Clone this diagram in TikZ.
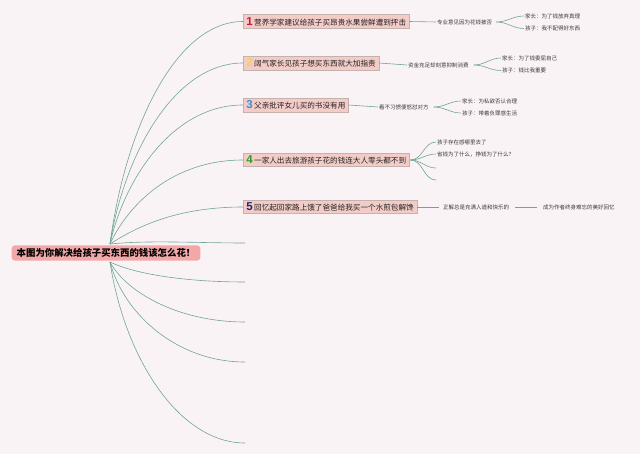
\documentclass[tikz,border=0pt]{standalone}
\usepackage{fontspec}
\newfontfamily\cjk{Noto Sans CJK SC}
\newfontfamily\numfont{Liberation Sans}
\definecolor{bgc}{HTML}{FAF3F5}
\definecolor{linec}{HTML}{6FA596}
\definecolor{topicfill}{HTML}{F3CCC8}
\definecolor{topicborder}{HTML}{C4B2AF}
\definecolor{rootfill}{HTML}{F2A8A8}
\definecolor{textdark}{HTML}{222222}
\definecolor{textgray}{HTML}{3A3A3A}
\definecolor{cone}{HTML}{D2143C}
\definecolor{ctwo}{HTML}{F5D54A}
\definecolor{cthree}{HTML}{3A8ED6}
\definecolor{cfour}{HTML}{2E9E2E}
\definecolor{cfive}{HTML}{24247A}
\tikzset{
  topic/.style={draw=topicborder, fill=topicfill, line width=0.6pt, inner xsep=3pt, inner ysep=2.5pt, anchor=west, font=\cjk\fontsize{7.6}{8.5}\selectfont, text=textdark},
  subt/.style={anchor=west, inner sep=1pt, font=\cjk\fontsize{5.5}{6}\selectfont, text=textgray},
  rootbox/.style={fill=rootfill, rounded corners=3pt, inner xsep=5pt, inner ysep=3pt, font=\cjk\bfseries\fontsize{9.4}{10}\selectfont, text=black},
  edge/.style={draw=linec, line width=0.6pt},
}
\newcommand{\numlbl}[2]{{\numfont\bfseries\fontsize{11.5}{11.5}\selectfont\textcolor{#1}{#2}}\hspace{1.5pt}}
\begin{document}
\begin{tikzpicture}[x=1pt,y=-1pt]
\fill[bgc] (0,0) rectangle (640,454);
\useasboundingbox (0,0) rectangle (640,454);

% root
\node[rootbox] (root) at (106,253) {本图为你解决给孩子买东西的钱该怎么花！};
\coordinate (rt) at (110,244);
\coordinate (rb) at (110,262);

% main topics
\node[topic] (n1) at (243,21.5) {\numlbl{cone}{1}营养学家建议给孩子买昂贵水果尝鲜遭到抨击};
\node[topic] (n2) at (243,63) {\numlbl{ctwo}{2}阔气家长见孩子想买东西就大加指责};
\node[topic] (n3) at (243,105) {\numlbl{cthree}{3}父亲批评女儿买的书没有用};
\node[topic] (n4) at (243,160) {\numlbl{cfour}{4}一家人出去旅游孩子花的钱连大人零头都不到};
\node[topic] (n5) at (243,207) {\numlbl{cfive}{5}回忆起回家路上饿了爸爸给我买一个水煎包解馋};

% empty branch ends
\coordinate (e1) at (245,243);
\coordinate (e2) at (245,282);
\coordinate (e3) at (245,322);
\coordinate (e4) at (245,362);
\coordinate (e5) at (245,443);

% root connectors
\draw[edge] (rt) .. controls (125,130) and (175,21.5) .. (n1.west);
\draw[edge] (rt) .. controls (124,155) and (174,63) .. (n2.west);
\draw[edge] (rt) .. controls (124,180) and (172,105) .. (n3.west);
\draw[edge] (rt) .. controls (128,205) and (172,160) .. (n4.west);
\draw[edge] (rt) .. controls (138,226) and (178,207) .. (n5.west);
\draw[edge] (rt) .. controls (150,240) and (195,243) .. (e1);
\draw[edge] (rb) .. controls (135,274) and (185,282) .. (e2);
\draw[edge] (rb) .. controls (126,292) and (178,322) .. (e3);
\draw[edge] (rb) .. controls (124,315) and (178,362) .. (e4);
\draw[edge] (rb) .. controls (125,360) and (180,443) .. (e5);

% topic 1
\node[subt] (c1) at (436,22) {专业意见因为花钱被否};
\node[subt] (l1a) at (524,16) {家长：为了钱放弃真理};
\node[subt] (l1b) at (524,28.5) {孩子：我不配得好东西};
\draw[edge] (n1.east) -- (c1.west);
\path (c1.east) ++(3,0) coordinate (c1o);
\draw[edge] (c1o) to[out=0,in=180] (l1a.west);
\draw[edge] (c1o) to[out=0,in=180] (l1b.west);

% topic 2
\node[subt] (c2) at (407,65) {资金充足却刻意抑制消费};
\node[subt] (l2a) at (501,58) {家长：为了钱委屈自己};
\node[subt] (l2b) at (501,70.5) {孩子：钱比我重要};
\draw[edge] (n2.east) -- (c2.west);
\path (c2.east) ++(4,0) coordinate (c2o);
\draw[edge] (c2o) to[out=0,in=180] (l2a.west);
\draw[edge] (c2o) to[out=0,in=180] (l2b.west);

% topic 3
\node[subt] (c3) at (378,107) {看不习惯便怒怼对方};
\node[subt] (l3a) at (461,101) {家长：为私欲否认合理};
\node[subt] (l3b) at (461,113) {孩子：带着负罪感生活};
\draw[edge] (n3.east) -- (c3.west);
\path (c3.east) ++(4,0) coordinate (c3o);
\draw[edge] (c3o) to[out=0,in=180] (l3a.west);
\draw[edge] (c3o) to[out=0,in=180] (l3b.west);

% topic 4
\node[subt] (l4a) at (436,142) {孩子存在感哪里去了};
\node[subt] (l4b) at (436,154) {省钱为了什么，挣钱为了什么？};
\coordinate (l4c) at (436,168);
\coordinate (l4d) at (436,180);
\path (n4.east) ++(1,0) coordinate (n4o);
\draw[edge] (n4o) to[out=0,in=180] (l4a.west);
\draw[edge] (n4o) to[out=0,in=180] (l4b.west);
\draw[edge] (n4o) to[out=0,in=180] (l4c);
\draw[edge] (n4o) to[out=0,in=180] (l4d);

% topic 5
\node[subt] (c5) at (442,207) {正解总是充满人道和快乐的};
\node[subt] (c5b) at (542,207) {成为作者终身难忘的美好回忆};
\draw[edge] (n5.east) -- ([xshift=-3pt]c5.west);
\draw[edge] ([xshift=5pt]c5.east) -- ([xshift=-5pt]c5b.west);
\end{tikzpicture}
\end{document}
